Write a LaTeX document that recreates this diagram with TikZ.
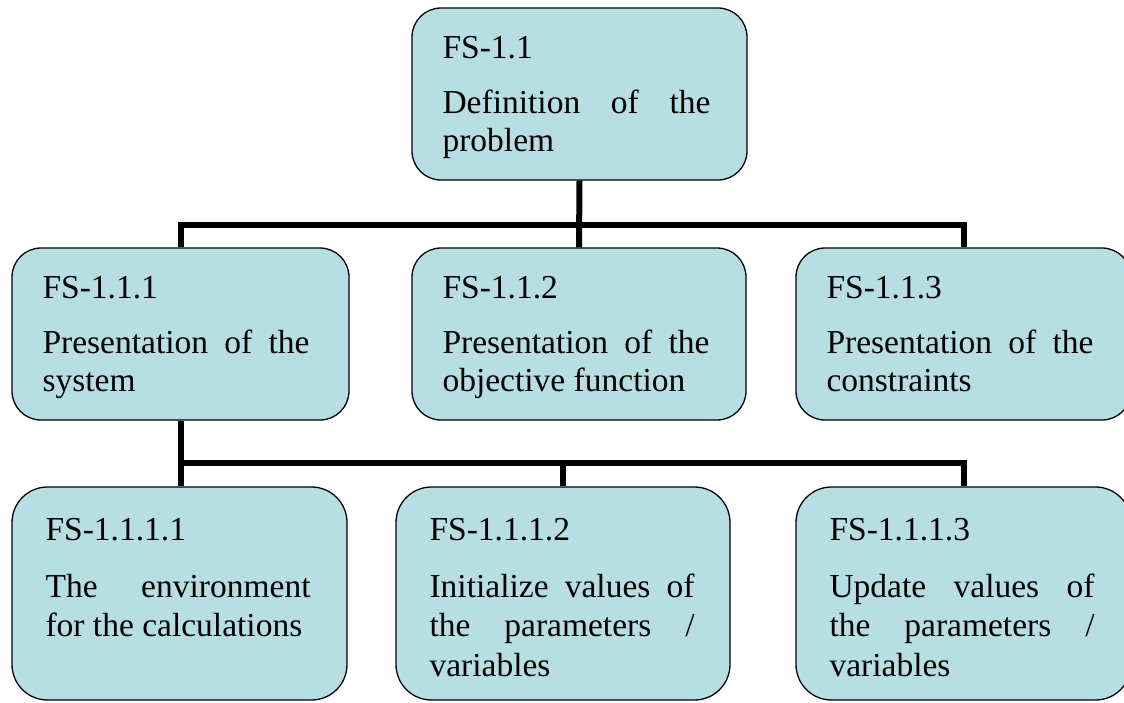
\documentclass[tikz,border=0pt]{standalone}
\usepackage{fontspec}
\setmainfont{Liberation Serif}
\definecolor{boxfill}{RGB}{183,222,227}
\newcommand{\fsbox}[4]{\parbox[t]{#1}{\fontsize{33.5pt}{#2}\selectfont\sloppy\hyphenpenalty=10000\exhyphenpenalty=10000 #3\par\vspace{17.5pt}#4}}
\pgfdeclarelayer{background}
\pgfsetlayers{background,main}
\begin{document}
\begin{tikzpicture}[x=1pt,y=-1pt,
  fsnode/.style={draw=black, line width=1.3pt, fill=boxfill, rounded corners=29pt,
    minimum width=335pt, minimum height=172pt, inner sep=0pt},
  fsnodeb/.style={fsnode, rounded corners=35.5pt, minimum height=213pt},
  lbl/.style={anchor=base west, inner sep=0pt, text=black},
  conn/.style={line width=6pt, line join=miter, line cap=butt}]
\useasboundingbox (0,0) rectangle (1124,702);
\clip (0,0) rectangle (1124,702);

% boxes
\node[fsnode] (A) at (579.5,94) {};
\node[fsnode, minimum width=337pt] (B1) at (180.5,334) {};
\node[fsnode, minimum width=334pt] (B2) at (579,334) {};
\node[fsnode] (B3) at (963.5,334) {};
\node[fsnodeb] (C1) at (179.5,593.5) {};
\node[fsnodeb, minimum width=334pt] (C2) at (563,593.5) {};
\node[fsnodeb] (C3) at (963.5,593.5) {};

% connectors
\coordinate (bar1) at (0,225);
\coordinate (bar2) at (0,463);
\begin{pgfonlayer}{background}
\draw[conn] (A.south) -- (B2.north);
\draw[conn] (B1.north) -- (B1.north |- bar1) -- (B3.north |- bar1) -- (B3.north);
\draw[conn] (B1.south) -- (C1.north -| B1.south);
\draw[conn] (B1.south |- bar2) -- (C3.north |- bar2) -- (C3.north);
\draw[conn] (C2.north |- bar2) -- (C2.north);
\end{pgfonlayer}

% texts
\node[lbl] (At) at ([xshift=31pt,yshift=-51pt]A.north west)
  {\fsbox{268pt}{38pt}{FS-1.1}{Definition of the problem}};
\node[lbl] (B1t) at ([xshift=31pt,yshift=-51pt]B1.north west)
  {\fsbox{267pt}{38pt}{FS-1.1.1}{Presentation of the system}};
\node[lbl] (B2t) at ([xshift=31pt,yshift=-51pt]B2.north west)
  {\fsbox{267pt}{38pt}{FS-1.1.2}{Presentation of the objective function}};
\node[lbl] (B3t) at ([xshift=31pt,yshift=-51pt]B3.north west)
  {\fsbox{267pt}{38pt}{FS-1.1.3}{Presentation of the constraints}};
\node[lbl] (C1t) at ([xshift=34pt,yshift=-54pt]C1.north west)
  {\fsbox{265pt}{39.5pt}{FS-1.1.1.1}{The environment for the calculations}};
\node[lbl] (C2t) at ([xshift=34pt,yshift=-54pt]C2.north west)
  {\fsbox{265pt}{39.5pt}{FS-1.1.1.2}{Initialize values of the parameters / variables}};
\node[lbl] (C3t) at ([xshift=34pt,yshift=-54pt]C3.north west)
  {\fsbox{265pt}{39.5pt}{FS-1.1.1.3}{Update values of the parameters / variables}};
\end{tikzpicture}
\end{document}
